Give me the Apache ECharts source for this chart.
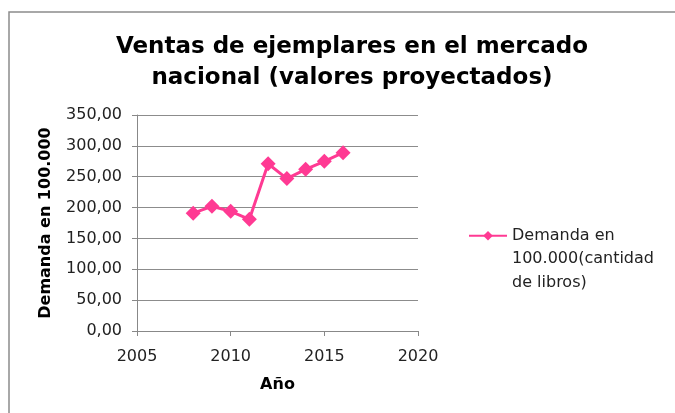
<!DOCTYPE html>
<html>
<head>
<meta charset="utf-8">
<script src="https://cdn.jsdelivr.net/npm/echarts@6/dist/echarts.min.js"></script>
<style>
    html, body { margin: 0; padding: 0; background: #fff; }
    #chart { width: 675px; height: 413px; }
</style>
</head>
<body>
<div id="chart"></div>
<script>
const years = [2008, 2009, 2010, 2011, 2012, 2013, 2014, 2015, 2016]
const demanda = [191, 202, 194, 181, 271, 247, 262, 275, 289]
const seriesName = "Demanda en\n100.000(cantidad\nde libros)"

const font = "'DejaVu Sans', sans-serif"
const pink = "#ff3a93"

const chart = echarts.init(document.getElementById("chart"), null, {renderer: "canvas"})

const option = {
    animation: false,
    graphic: [
        {
            type: "rect",
            shape: {x: 9, y: 12, width: 700, height: 420},
            style: {fill: "none", stroke: "#8c8c8c", lineWidth: 1.5},
            silent: true
        }
    ],
    title: {
        text: "Ventas de ejemplares en el mercado\nnacional (valores proyectados)",
        left: 347,
        textAlign: "center",
        top: 27,
        textStyle: {
            fontFamily: font,
            fontSize: 23,
            fontWeight: "bold",
            color: "#000",
            lineHeight: 31
        }
    },
    legend: {
        left: 468,
        top: 177,
        padding: 0,
        itemWidth: 38,
        itemHeight: 12,
        itemGap: 0,
        data: [seriesName],
        formatter: name => "\n\n" + name,
        textStyle: {
            fontFamily: font,
            fontSize: 16,
            color: "#222",
            lineHeight: 23.5
        }
    },
    grid: {
        left: 137,
        right: 257,
        top: 115,
        bottom: 82,
        containLabel: false
    },
    xAxis: {
        type: "value",
        min: 2005,
        max: 2020,
        interval: 5,
        name: "Año",
        nameLocation: "middle",
        nameGap: 46,
        nameTextStyle: {fontFamily: font, fontSize: 16, fontWeight: "bold", color: "#000"},
        axisLine: {show: true, lineStyle: {color: "#888", width: 1}},
        axisTick: {show: true, length: 5, lineStyle: {color: "#888"}},
        axisLabel: {fontFamily: font, fontSize: 16, color: "#222", margin: 18, formatter: v => String(v)},
        splitLine: {show: false}
    },
    yAxis: {
        type: "value",
        min: 0,
        max: 350,
        interval: 50,
        name: "Demanda en 100.000",
        nameLocation: "middle",
        nameGap: 83,
        nameTextStyle: {fontFamily: font, fontSize: 16, fontWeight: "bold", color: "#000"},
        axisLine: {show: true, lineStyle: {color: "#888", width: 1}},
        axisTick: {show: true, length: 5, lineStyle: {color: "#888"}},
        axisLabel: {
            fontFamily: font,
            fontSize: 16,
            color: "#222",
            margin: 15,
            formatter: v => v.toFixed(2).replace(".", ",")
        },
        splitLine: {show: true, lineStyle: {color: "#8c8c8c", width: 1}}
    },
    series: [
        {
            name: seriesName,
            type: "line",
            data: years.map((y, i) => [y, demanda[i]]),
            symbol: "diamond",
            symbolSize: 15,
            lineStyle: {color: pink, width: 3},
            itemStyle: {color: pink}
        }
    ]
}

chart.setOption(option)
</script>
</body>
</html>
